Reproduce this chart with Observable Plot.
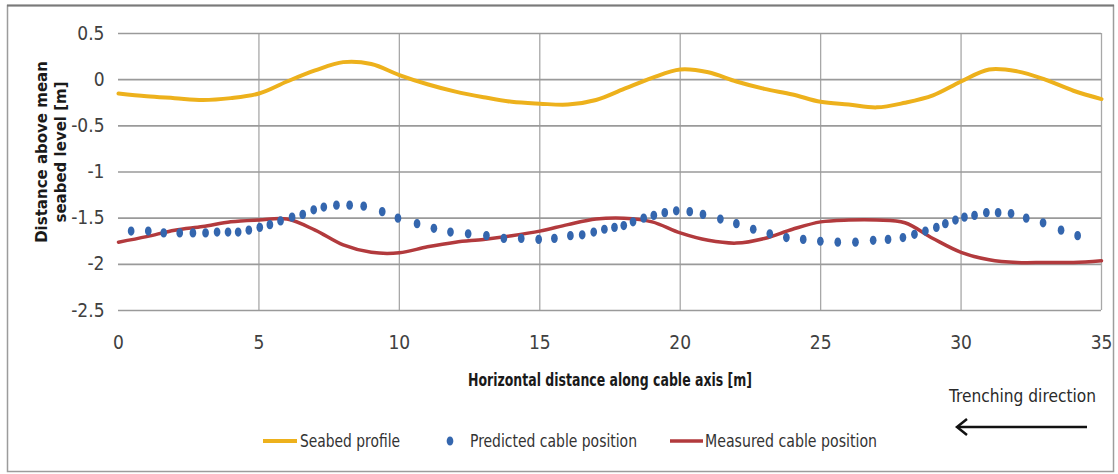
<!DOCTYPE html>
<html>
<head>
<meta charset="utf-8">
<script src="https://cdn.jsdelivr.net/npm/d3@7"></script>
<script src="https://cdn.jsdelivr.net/npm/@observablehq/plot@0.6"></script>
<style>
  html, body { margin: 0; padding: 0; background: #ffffff; }
  #chart { width: 1118px; height: 474px; }
  svg { display: block; }
</style>
</head>
<body>
<div id="chart"></div>
<script>
// ---------------- Data ----------------
const seabedX = [0,1,2,3,4,5,6,7,8,9,10,11,12,13,14,15,16,17,18,19,20,21,22,23,24,25,26,27,28,29,30,31,32,33,34,35];
const seabedY = [-0.15,-0.18,-0.20,-0.22,-0.20,-0.15,-0.02,0.10,0.19,0.17,0.05,-0.05,-0.13,-0.19,-0.24,-0.26,-0.27,-0.22,-0.10,0.02,0.11,0.08,-0.02,-0.10,-0.16,-0.24,-0.27,-0.30,-0.25,-0.17,-0.02,0.11,0.09,0.00,-0.12,-0.21];

const measuredX = [0,1,2,3,4,5,6,7,8,9,10,11,12,13,14,15,16,17,18,19,20,21,22,23,24,25,26,27,28,29,30,31,32,33,34,35];
const measuredY = [-1.76,-1.70,-1.63,-1.59,-1.54,-1.52,-1.51,-1.63,-1.79,-1.87,-1.875,-1.81,-1.76,-1.73,-1.69,-1.64,-1.57,-1.51,-1.50,-1.54,-1.66,-1.74,-1.77,-1.72,-1.62,-1.54,-1.52,-1.52,-1.55,-1.72,-1.87,-1.95,-1.98,-1.98,-1.98,-1.96];

const predictedX = [0.45,1.06,1.61,2.18,2.65,3.10,3.51,3.90,4.26,4.64,5.03,5.39,5.77,6.18,6.56,6.95,7.31,7.76,8.23,8.73,9.39,9.95,10.63,11.23,11.82,12.45,13.10,13.72,14.34,14.96,15.52,16.09,16.51,16.92,17.30,17.66,17.99,18.32,18.70,19.06,19.45,19.86,20.34,20.81,21.43,22.00,22.60,23.19,23.78,24.38,24.99,25.61,26.24,26.87,27.40,27.93,28.34,28.73,29.12,29.44,29.80,30.12,30.48,30.90,31.32,31.78,32.32,32.92,33.56,34.15];
const predictedY = [-1.64,-1.64,-1.66,-1.66,-1.66,-1.66,-1.65,-1.65,-1.65,-1.63,-1.60,-1.57,-1.53,-1.49,-1.46,-1.41,-1.38,-1.36,-1.36,-1.37,-1.43,-1.50,-1.56,-1.61,-1.65,-1.67,-1.69,-1.72,-1.72,-1.73,-1.72,-1.69,-1.68,-1.65,-1.62,-1.60,-1.58,-1.54,-1.50,-1.47,-1.44,-1.42,-1.43,-1.46,-1.51,-1.56,-1.62,-1.67,-1.71,-1.73,-1.75,-1.76,-1.76,-1.74,-1.73,-1.71,-1.675,-1.64,-1.60,-1.56,-1.52,-1.49,-1.47,-1.44,-1.44,-1.45,-1.50,-1.55,-1.63,-1.69];

const xTickValues = [0,5,10,15,20,25,30,35];
const yTickValues = [0.5,0,-0.5,-1,-1.5,-2,-2.5];
const seriesNames = ["Seabed profile","Predicted cable position","Measured cable position"];
const xTitle = "Horizontal distance along cable axis [m]";
const yTitleLines = ["Distance above mean","seabed level [m]"];
const directionLabel = "Trenching direction";

// ---------------- Tables ----------------
const seabed = seabedX.map((x, i) => ({x, y: seabedY[i]}));
const measured = measuredX.map((x, i) => ({x, y: measuredY[i]}));
const predicted = predictedX.map((x, i) => ({x, y: predictedY[i]}));

const gold = "#EDB11C";
const red = "#B23A3D";
const blue = "#3466AE";
const narrow = "'Liberation Sans Narrow', 'DejaVu Sans Condensed', 'Liberation Sans', sans-serif";

// Slightly tall elliptical marker like the reference
const ellipse = {
  draw(ctx, size) {
    const r = Math.sqrt(size / Math.PI);
    const rx = r * 0.8, ry = r * 1.1, k = 0.5523;
    ctx.moveTo(rx, 0);
    ctx.bezierCurveTo(rx, ry * k, rx * k, ry, 0, ry);
    ctx.bezierCurveTo(-rx * k, ry, -rx, ry * k, -rx, 0);
    ctx.bezierCurveTo(-rx, -ry * k, -rx * k, -ry, 0, -ry);
    ctx.bezierCurveTo(rx * k, -ry, rx, -ry * k, rx, 0);
    ctx.closePath();
  }
};

const svg = Plot.plot({
  width: 1118,
  height: 474,
  marginLeft: 118,
  marginRight: 17,
  marginTop: 33,
  marginBottom: 164,
  x: {domain: [0, 35], label: null},
  y: {domain: [-2.5, 0.5], label: null},
  style: {fontFamily: narrow, fontSize: "19px", color: "#404040", background: "#ffffff"},
  marks: [
    Plot.gridX(xTickValues.filter(d => d > 0), {stroke: "#a8a8a8", strokeOpacity: 1, strokeWidth: 1.3}),
    Plot.gridY(yTickValues, {stroke: "#9a9a9a", strokeOpacity: 1, strokeWidth: 1.6}),
    Plot.axisY(yTickValues, {tickSize: 0, tickPadding: 14, tickFormat: d => String(d), label: null}),
    Plot.axisX(xTickValues, {tickSize: 0, tickPadding: 25, tickFormat: d => String(d), label: null}),
    Plot.line(seabed, {x: "x", y: "y", stroke: gold, strokeWidth: 4, curve: "catmull-rom"}),
    Plot.line(measured, {x: "x", y: "y", stroke: red, strokeWidth: 3.5, curve: "catmull-rom"}),
    Plot.dot(predicted, {x: "x", y: "y", r: 4.2, symbol: ellipse, fill: blue, stroke: "none"})
  ]
});

document.getElementById("chart").appendChild(svg);

const s = d3.select(svg);

// Outer border
s.append("rect").attr("x", 7.5).attr("y", 5.5).attr("width", 1106).attr("height", 466)
  .attr("fill", "none").attr("stroke", "#9c9c9c").attr("stroke-width", 1.5);
s.append("line").attr("x1", 7).attr("x2", 1114).attr("y1", 5.5).attr("y2", 5.5)
  .attr("stroke", "#7a7a7a").attr("stroke-width", 2);

// Y axis title (two lines)
const yt = s.append("g").attr("transform", "translate(0,152)")
  .attr("font-family", "'DejaVu Sans', Verdana, sans-serif").attr("font-weight", "bold")
  .attr("font-size", 15).attr("fill", "#1a1a1a").attr("text-anchor", "middle");
yt.append("text").attr("transform", "translate(42,0) rotate(-90)").attr("dy", "0.35em").text(yTitleLines[0]);
yt.append("text").attr("transform", "translate(61,0) rotate(-90)").attr("dy", "0.35em").text(yTitleLines[1]);

// X axis title
s.append("text").attr("x", 610).attr("y", 380).attr("dy", "0.36em")
  .attr("text-anchor", "middle").attr("font-family", narrow).attr("font-weight", "bold")
  .attr("font-size", 17).attr("fill", "#1a1a1a")
  .attr("textLength", 284).attr("lengthAdjust", "spacingAndGlyphs").text(xTitle);

// Legend
const lg = s.append("g").attr("font-family", narrow).attr("font-size", 18).attr("fill", "#333")
  .attr("text-anchor", "start");
const ly = 441;
lg.append("line").attr("x1", 263).attr("x2", 297).attr("y1", ly).attr("y2", ly).attr("stroke", gold).attr("stroke-width", 4);
lg.append("text").attr("x", 300).attr("y", ly).attr("dy", "0.36em").attr("textLength", 100).attr("lengthAdjust", "spacingAndGlyphs").text(seriesNames[0]);
lg.append("path").attr("transform", `translate(450,${ly})`).attr("d", d3.symbol(ellipse, 55)()).attr("fill", blue);
lg.append("text").attr("x", 470).attr("y", ly).attr("dy", "0.36em").attr("textLength", 167).attr("lengthAdjust", "spacingAndGlyphs").text(seriesNames[1]);
lg.append("line").attr("x1", 670).attr("x2", 703).attr("y1", ly).attr("y2", ly).attr("stroke", red).attr("stroke-width", 3.5);
lg.append("text").attr("x", 705).attr("y", ly).attr("dy", "0.36em").attr("textLength", 172).attr("lengthAdjust", "spacingAndGlyphs").text(seriesNames[2]);

// Trenching direction
s.append("text").attr("x", 949).attr("y", 396).attr("dy", "0.36em").attr("text-anchor", "start")
  .attr("font-family", narrow).attr("font-size", 18).attr("fill", "#2a2a2a")
  .attr("textLength", 147).attr("lengthAdjust", "spacingAndGlyphs").text(directionLabel);
s.append("line").attr("x1", 1087).attr("x2", 958).attr("y1", 427).attr("y2", 427)
  .attr("stroke", "#111").attr("stroke-width", 2.5);
s.append("path").attr("d", "M967,419 L957,427 L967,435").attr("fill", "none")
  .attr("stroke", "#111").attr("stroke-width", 2.5).attr("stroke-linejoin", "miter");
</script>
</body>
</html>
